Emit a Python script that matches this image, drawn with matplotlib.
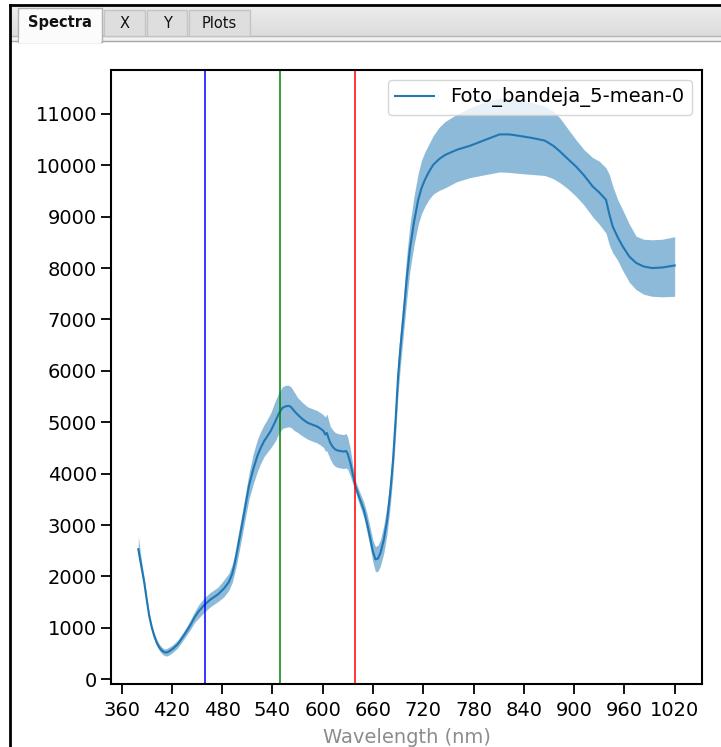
import numpy as np
import matplotlib
matplotlib.use("Agg")
import matplotlib.pyplot as plt
from matplotlib.patches import Rectangle

# Mean spectrum with its spread band (digital counts) per wavelength (nm)
wavelength = [380, 383, 387, 390, 393, 396, 399, 402, 405, 408, 411, 414, 417, 421, 427,
              433, 439, 443, 447, 452, 459, 466, 475, 482, 488, 492, 495, 498, 502, 507,
              512, 517, 522, 526, 530, 534, 538, 543, 548, 552, 556, 559, 562, 566, 570,
              576, 582, 588, 593, 597, 601, 603, 605, 607, 609, 612, 615, 618, 621, 625,
              628, 630, 633, 636, 639, 644, 649, 653, 657, 660, 663, 666, 669, 673, 677,
              681, 684, 687, 690, 693, 696, 700, 704, 709, 714, 718, 722, 727, 732, 739,
              746, 760, 776, 795, 811, 823, 835, 850, 865, 875, 883, 892, 902, 912, 922,
              930, 938, 942, 946, 952, 958, 966, 974, 983, 993, 1005, 1020]
mean_counts = [2530, 2250, 1890, 1550, 1230, 1010, 840, 710, 620, 560, 525, 520, 545, 590, 680,
               820, 970, 1080, 1200, 1320, 1450, 1550, 1650, 1760, 1890, 2050, 2250, 2500, 2850, 3300,
               3760, 4080, 4340, 4500, 4630, 4730, 4830, 5000, 5180, 5280, 5310, 5320, 5300, 5220, 5150,
               5060, 4990, 4950, 4920, 4880, 4830, 4760, 4790, 4690, 4600, 4520, 4470, 4450, 4440, 4430,
               4440, 4380, 4210, 3980, 3760, 3520, 3300, 3030, 2720, 2480, 2330, 2350, 2460, 2720, 3110,
               3700, 4280, 5050, 5900, 6500, 7000, 7750, 8360, 8900, 9330, 9560, 9720, 9880, 10010, 10120,
               10200, 10300, 10380, 10500, 10600, 10600, 10570, 10530, 10480, 10380, 10270, 10130, 9980, 9800, 9590,
               9470, 9330, 9050, 8810, 8600, 8420, 8220, 8100, 8030, 8000, 8010, 8050]
lower_counts = [2420, 2150, 1800, 1480, 1165, 945, 775, 645, 555, 495, 460, 450, 475, 520, 610,
                750, 890, 990, 1100, 1190, 1310, 1410, 1510, 1600, 1730, 1880, 2070, 2290, 2630, 3070,
                3500, 3790, 4040, 4200, 4330, 4420, 4500, 4620, 4790, 4880, 4900, 4910, 4900, 4840, 4800,
                4730, 4670, 4630, 4600, 4560, 4510, 4440, 4440, 4360, 4280, 4190, 4140, 4120, 4110, 4100,
                4110, 4080, 3950, 3800, 3650, 3390, 3150, 2850, 2530, 2270, 2090, 2100, 2210, 2460, 2850,
                3430, 4000, 4740, 5570, 6150, 6650, 7340, 7940, 8450, 8850, 9060, 9200, 9340, 9440, 9510,
                9560, 9680, 9760, 9820, 9870, 9860, 9840, 9820, 9800, 9740, 9660, 9550, 9400, 9220, 9000,
                8850, 8680, 8450, 8300, 8150, 7950, 7720, 7580, 7490, 7450, 7440, 7450]
upper_counts = [2780, 2400, 1980, 1620, 1295, 1075, 905, 775, 685, 625, 590, 600, 625, 670, 760,
                900, 1060, 1180, 1310, 1450, 1590, 1690, 1790, 1930, 2060, 2230, 2440, 2720, 3070, 3530,
                4000, 4380, 4660, 4820, 4950, 5060, 5180, 5400, 5590, 5690, 5720, 5720, 5690, 5590, 5480,
                5380, 5300, 5260, 5230, 5190, 5140, 5100, 5160, 5040, 4920, 4850, 4800, 4780, 4770, 4760,
                4780, 4700, 4480, 4160, 3870, 3650, 3450, 3220, 2920, 2700, 2580, 2610, 2720, 3000, 3400,
                3980, 4550, 5380, 6240, 6860, 7350, 8200, 8830, 9400, 9850, 10100, 10260, 10420, 10580, 10740,
                10850, 10990, 11120, 11240, 11300, 11310, 11280, 11220, 11150, 11050, 10920, 10720, 10500, 10300, 10150,
                10080, 9950, 9820, 9600, 9330, 9130, 8850, 8620, 8560, 8550, 8560, 8610]

# RGB reference bands (nm)
rgb_bands = [(459, "blue"), (549, "green"), (638, "red")]

series_label = "Foto_bandeja_5-mean-0"
x_ticks = list(range(360, 1021, 60))
y_ticks = list(range(0, 11001, 1000))
tab_names = ["Spectra", "X", "Y", "Plots"]

W, H = 721, 747
FS = 14
fig = plt.figure(figsize=(W / 100, H / 100), dpi=100)
fig.patch.set_facecolor("white")

# ---- window chrome (tab bar and frame), drawn in pixel coordinates ----
bg = fig.add_axes([0, 0, 1, 1], zorder=0)
bg.set_xlim(0, W)
bg.set_ylim(H, 0)
bg.axis("off")

# tab bar gradient
grad = np.linspace(0.93, 0.86, 64).reshape(-1, 1)
bg.imshow(np.repeat(grad, 2, axis=1), cmap="gray", vmin=0, vmax=1,
          extent=(10, W, 36, 5), aspect="auto", zorder=1, interpolation="bilinear")
bg.add_patch(Rectangle((10, 36), W - 10, 5, facecolor="#f2f2f2", edgecolor="none", zorder=2))
bg.plot([10, W], [36, 36], color="#b4b4b4", lw=1, zorder=3)
bg.plot([10, W], [41, 41], color="#a8a8a8", lw=1, zorder=3)

tab_boxes = [(18, 102), (104, 145), (147, 187), (189, 250)]
for i, (name, (x0, x1)) in enumerate(zip(tab_names, tab_boxes)):
    if i == 0:
        bg.add_patch(Rectangle((x0, 8), x1 - x0, 34, facecolor="#fbfbfb",
                               edgecolor="#b0b0b0", lw=1, zorder=4))
        bg.add_patch(Rectangle((x0 + 1, 38), x1 - x0 - 2, 5, facecolor="#fbfbfb",
                               edgecolor="none", zorder=5))
        bg.text((x0 + x1) / 2, 23, name, ha="center", va="center", fontsize=10.5,
                fontweight="bold", color="#111111", zorder=6)
    else:
        bg.add_patch(Rectangle((x0, 10), x1 - x0, 26, facecolor="#dedede",
                               edgecolor="#c4c4c4", lw=1, zorder=4))
        bg.text((x0 + x1) / 2, 23, name, ha="center", va="center", fontsize=10.5,
                color="#111111", zorder=6)

# outer frame
bg.plot([10, W], [5, 5], color="black", lw=2, zorder=7)
bg.plot([10, 10], [5, H], color="black", lw=2, zorder=7)

# ---- spectrum plot ----
ax = fig.add_axes([111.5 / W, 1 - 684 / H, (701.5 - 111.5) / W, (684 - 70) / H], zorder=1)
ax.set_facecolor("white")

ax.fill_between(wavelength, lower_counts, upper_counts, color="#1f77b4", alpha=0.5,
                linewidth=0)
ax.plot(wavelength, mean_counts, color="#1f77b4", lw=1.5, label=series_label)
for wl, col in rgb_bands:
    ax.axvline(wl, color=col, lw=1.1)

ax.set_xticks(x_ticks)
ax.set_yticks(y_ticks)
ax.tick_params(labelsize=FS, length=7, width=1.3, colors="black")
ax.tick_params(axis="x", pad=5)
for s in ax.spines.values():
    s.set_linewidth(1.5)
ax.set_xlabel("Wavelength (nm)", fontsize=FS, color="#8c8c8c", labelpad=6)
ax.legend(loc="upper right", fontsize=FS, handlelength=2.0)

fig.savefig("out.png", dpi=100)
